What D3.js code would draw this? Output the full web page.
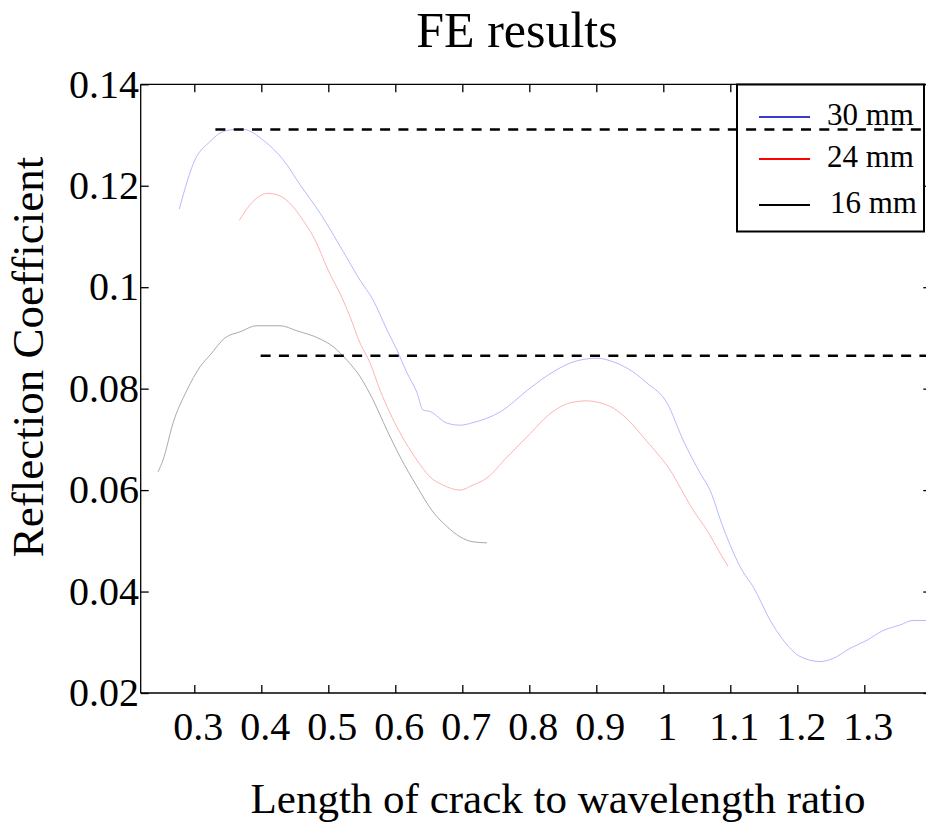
<!DOCTYPE html>
<html>
<head>
<meta charset="utf-8">
<script src="https://cdn.jsdelivr.net/npm/d3@7"></script>
<style>
  html, body { margin: 0; padding: 0; background: #fff; }
  svg { display: block; }
  text { font-family: "Liberation Serif", "Times New Roman", serif; fill: #000; }
</style>
</head>
<body>
<svg id="chart" width="926" height="823"></svg>
<script>
// ---- Data ----
const xTicks = [0.3, 0.4, 0.5, 0.6, 0.7, 0.8, 0.9, 1.0, 1.1, 1.2, 1.3];
const xTickLabels = ["0.3", "0.4", "0.5", "0.6", "0.7", "0.8", "0.9", "1", "1.1", "1.2", "1.3"];
const yTicks = [0.02, 0.04, 0.06, 0.08, 0.10, 0.12, 0.14];
const yTickLabels = ["0.02", "0.04", "0.06", "0.08", "0.1", "0.12", "0.14"];

const seriesNames = ["30 mm", "24 mm", "16 mm"];

const x30 = [0.2776, 0.3010, 0.3234, 0.3433, 0.3622, 0.3731, 0.4055, 0.4328, 0.4579, 0.4877, 0.5224, 0.5473, 0.5667, 0.5876, 0.6025, 0.6175, 0.6324, 0.6413, 0.6518, 0.6772, 0.6966, 0.7160, 0.7563, 0.8011, 0.8354, 0.8713, 0.9011, 0.9250, 0.9548, 0.9757, 1.0055, 1.0294, 1.0548, 1.0697, 1.0891, 1.1189, 1.1339, 1.1592, 1.1786, 1.2040, 1.2339, 1.2533, 1.2787, 1.3040, 1.3279, 1.3533, 1.3727, 1.4000];
const y30 = [0.1154, 0.1251, 0.1287, 0.1307, 0.1311, 0.1311, 0.1287, 0.1251, 0.1202, 0.1146, 0.1070, 0.1014, 0.0975, 0.0916, 0.0876, 0.0831, 0.0792, 0.0758, 0.0755, 0.0732, 0.0728, 0.0733, 0.0754, 0.0801, 0.0833, 0.0855, 0.0860, 0.0853, 0.0833, 0.0811, 0.0772, 0.0699, 0.0634, 0.0600, 0.0527, 0.0439, 0.0410, 0.0344, 0.0305, 0.0272, 0.0262, 0.0268, 0.0288, 0.0304, 0.0323, 0.0334, 0.0343, 0.0343];

const x24 = [0.3672, 0.3876, 0.4100, 0.4279, 0.4399, 0.4623, 0.4803, 0.4996, 0.5219, 0.5324, 0.5473, 0.5623, 0.5772, 0.5921, 0.6070, 0.6324, 0.6518, 0.6712, 0.6966, 0.7160, 0.7369, 0.7667, 0.7966, 0.8354, 0.8608, 0.8862, 0.9056, 0.9250, 0.9548, 0.9697, 0.9906, 1.0100, 1.0249, 1.0443, 1.0652, 1.0846, 1.0966];
const y24 = [0.1132, 0.1169, 0.1185, 0.1180, 0.1169, 0.1132, 0.1093, 0.1034, 0.0975, 0.0942, 0.0890, 0.0851, 0.0797, 0.0752, 0.0713, 0.0659, 0.0626, 0.0610, 0.0600, 0.0610, 0.0624, 0.0665, 0.0705, 0.0755, 0.0772, 0.0776, 0.0772, 0.0762, 0.0728, 0.0705, 0.0673, 0.0640, 0.0606, 0.0561, 0.0521, 0.0476, 0.0450];

const x16 = [0.2458, 0.2533, 0.2682, 0.2891, 0.3085, 0.3234, 0.3458, 0.3682, 0.3936, 0.4279, 0.4533, 0.4877, 0.5070, 0.5279, 0.5473, 0.5667, 0.5876, 0.6070, 0.6324, 0.6563, 0.6772, 0.6966, 0.7160, 0.7369];
const y16 = [0.0636, 0.0659, 0.0732, 0.0797, 0.0843, 0.0866, 0.0900, 0.0912, 0.0924, 0.0924, 0.0914, 0.0898, 0.0883, 0.0856, 0.0824, 0.0778, 0.0718, 0.0666, 0.0607, 0.0557, 0.0528, 0.0508, 0.0498, 0.0496];

// Dashed reference levels
const refStarts = [0.3315, 0.399];
const refEnd = 1.4;
const refLevels = [0.1311, 0.0865];

// ---- Layout ----
const svg = d3.select("#chart");
const pL = 140.7, pR = 931.3, pT = 84.3, pB = 693;
const x = d3.scaleLinear().domain([0.22, 1.4]).range([pL, pR]);
const y = d3.scaleLinear().domain([0.02, 0.14]).range([pB, pT]);

const lineColors = ["#b0b0ff", "#ffaaaa", "#a0a0a0"];
const legendColors = ["#3a3acc", "#ff0000", "#000000"];

// Frame
const frame = svg.append("g");
frame.append("line").attr("x1", pL).attr("x2", pR).attr("y1", pT).attr("y2", pT).attr("stroke", "#000").attr("stroke-width", 1.3);
frame.append("line").attr("x1", pL).attr("x2", pR).attr("y1", pB).attr("y2", pB).attr("stroke", "#000").attr("stroke-width", 1.3);
frame.append("line").attr("x1", pL).attr("x2", pL).attr("y1", pT).attr("y2", pB).attr("stroke", "#000").attr("stroke-width", 1.3);
frame.append("line").attr("x1", pR).attr("x2", pR).attr("y1", pT).attr("y2", pB).attr("stroke", "#000").attr("stroke-width", 1.3);

// Axes with inward ticks via d3 axes
const tk = 8;
const gxB = svg.append("g").attr("transform", `translate(0,${pB})`)
  .call(d3.axisBottom(x).tickValues(xTicks).tickSizeInner(-tk).tickSizeOuter(0).tickFormat(""));
const gxT = svg.append("g").attr("transform", `translate(0,${pT})`)
  .call(d3.axisTop(x).tickValues(xTicks).tickSizeInner(-tk).tickSizeOuter(0).tickFormat(""));
const gyL = svg.append("g").attr("transform", `translate(${pL},0)`)
  .call(d3.axisLeft(y).tickValues(yTicks).tickSizeInner(-tk).tickSizeOuter(0).tickFormat(""));
const gyR = svg.append("g").attr("transform", `translate(${pR},0)`)
  .call(d3.axisRight(y).tickValues(yTicks).tickSizeInner(-tk).tickSizeOuter(0).tickFormat(""));
[gxB, gxT, gyL, gyR].forEach(g => {
  g.select(".domain").remove();
  g.selectAll(".tick line").attr("stroke", "#000").attr("stroke-width", 1.3);
});

// Tick labels
svg.append("g").selectAll("text").data(xTicks).join("text")
  .attr("x", d => x(d) + 4).attr("y", 740)
  .attr("text-anchor", "middle").attr("font-size", 40)
  .text((d, i) => xTickLabels[i]);
svg.append("g").selectAll("text").data(yTicks).join("text")
  .attr("x", 139).attr("y", d => y(d)).attr("dy", "0.33em")
  .attr("text-anchor", "end").attr("font-size", 40)
  .text((d, i) => yTickLabels[i]);

// Titles
svg.append("text").attr("x", 517).attr("y", 47).attr("text-anchor", "middle").attr("font-size", 50).text("FE results");
svg.append("text").attr("x", 558).attr("y", 813).attr("text-anchor", "middle").attr("font-size", 43).text("Length of crack to wavelength ratio");
svg.append("text").attr("transform", "translate(43,357) rotate(-90)").attr("text-anchor", "middle").attr("font-size", 45).text("Reflection Coefficient");

// Curves
const plot = svg.append("g");
const line = d3.line().curve(d3.curveMonotoneX).x(d => x(d[0])).y(d => y(d[1]));
const series = [d3.zip(x30, y30), d3.zip(x24, y24), d3.zip(x16, y16)];
series.forEach((s, i) => {
  plot.append("path").datum(s).attr("d", line)
    .attr("fill", "none").attr("stroke", lineColors[i]).attr("stroke-width", 0.9)
    .attr("stroke-linejoin", "round");
});

// Legend
const lg = svg.append("g");
lg.append("rect").attr("x", 737).attr("y", 84.5).attr("width", 187).attr("height", 147)
  .attr("fill", "#fff").attr("stroke", "#000").attr("stroke-width", 2);
const legY = [117, 159, 205];
const legTextY = [125, 167, 213];
const legTextX = [827, 827, 830];
seriesNames.forEach((n, i) => {
  lg.append("line").attr("x1", 759).attr("x2", 810).attr("y1", legY[i]).attr("y2", legY[i])
    .attr("stroke", legendColors[i]).attr("stroke-width", 2.2);
  lg.append("text").attr("x", legTextX[i]).attr("y", legTextY[i]).attr("font-size", 31).text(n);
});

// Dashed reference lines (on top)
refLevels.forEach((lv, i) => {
  svg.append("line").attr("x1", x(refStarts[i])).attr("x2", x(refEnd))
    .attr("y1", y(lv)).attr("y2", y(lv))
    .attr("stroke", "#000").attr("stroke-width", 2.6).attr("stroke-dasharray", "10,8.3");
});
</script>
</body>
</html>
